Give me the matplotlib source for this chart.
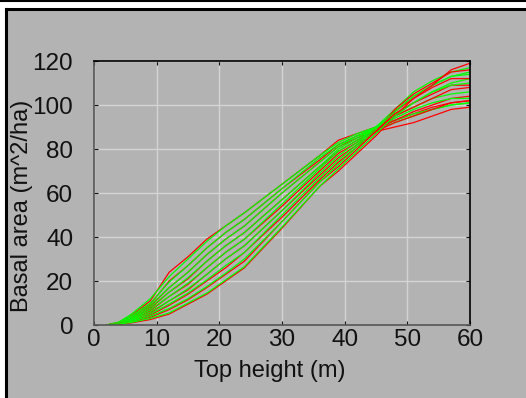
import matplotlib.pyplot as plt
from matplotlib.patches import Rectangle
from matplotlib.lines import Line2D

# top height (m) where the curves are sampled
height = [2, 4, 6, 9, 12, 15, 18, 21, 24, 30, 36, 39, 42, 45, 48, 51, 54, 57, 60]

# basal area (m^2/ha), red set
red_curves = [
    [0, 1.2, 4.5, 11, 24, 31, 39, 45, 51, 64, 77, 84, 87, 90, 93, 96, 99, 101, 102],
    [0, 1.0, 3.8, 9.5, 20, 27, 35, 42, 48, 62, 75, 82, 86, 88, 90, 92, 95, 98, 99],
    [0, 0.9, 3.2, 8.5, 17, 24, 32, 39, 45, 60, 74, 81, 85, 89, 93, 97, 100, 103, 104],
    [0, 0.8, 2.8, 7.5, 15, 21, 29, 36, 42, 57, 72, 79, 84, 88, 92, 95, 98, 101, 102],
    [0, 0.7, 2.4, 6.5, 13, 18.5, 26, 33, 39, 54, 70, 78, 83, 89, 95, 99, 103, 107, 108],
    [0, 0.6, 2.0, 5.5, 11, 16, 23, 30, 36, 52, 68, 76, 82, 88, 96, 101, 105, 109, 109],
    [0, 0.5, 1.7, 4.5, 9, 14, 20, 26, 33, 49, 66, 74, 81, 88, 97, 103, 108, 112, 112],
    [0, 0.4, 1.4, 3.5, 7, 11.5, 17, 23, 29, 47, 65, 72, 80, 88, 98, 105, 110, 115, 116],
    [0, 0.3, 1.0, 2.5, 5, 9.5, 14, 20, 26, 44, 63, 70, 78, 86, 95, 103, 109, 116, 119],
]

# basal area (m^2/ha), green set
green_curves = [
    [0, 1.4, 5, 12, 22, 30, 38, 45, 51, 64, 77, 83, 87, 90, 93, 96, 98, 100, 101],
    [0, 1.2, 4.2, 10, 19.5, 27, 35, 42, 48, 62, 76, 82, 86, 89, 92, 95, 98, 100, 101],
    [0, 1.0, 3.6, 9, 17, 24, 32, 39, 45, 60, 74, 81, 86, 90, 94, 98, 101, 103, 103],
    [0, 0.9, 3.0, 8, 15, 21.5, 29, 36, 42, 57, 72, 80, 85, 90, 95, 99, 103, 105, 106],
    [0, 0.8, 2.6, 7, 13, 19, 26, 33, 39, 55, 71, 79, 84, 90, 96, 101, 106, 110, 112],
    [0, 0.7, 2.2, 6, 11, 16.5, 23, 30, 36, 52, 69, 77, 83, 90, 97, 104, 109, 113, 115],
    [0, 0.6, 1.9, 5, 9.5, 14.5, 20.5, 27, 33, 50, 67, 75, 82, 90, 98, 106, 111, 115, 117],
    [0, 0.5, 1.6, 4, 7.5, 12, 17.5, 23.5, 30, 47, 65, 73, 81, 89, 97, 104, 109, 113, 114],
    [0, 0.4, 1.2, 3, 5.5, 10, 14.5, 20.5, 26.5, 44.5, 63, 71, 79, 87, 95, 101, 106, 109, 110],
]

xticks = [0, 10, 20, 30, 40, 50, 60]
yticks = [0, 20, 40, 60, 80, 100, 120]

bg = '#b3b3b3'
W, H = 526, 398
plt.rcParams['font.family'] = ['Liberation Sans', 'DejaVu Sans']

fig = plt.figure(figsize=(W / 100, H / 100), dpi=100)
fig.patch.set_facecolor('white')

# grey panel with black frame on top and left
fig.add_artist(Rectangle((6 / W, 0), 1, 1 - 9 / H, transform=fig.transFigure,
                         facecolor=bg, edgecolor='none', zorder=0))
fig.add_artist(Line2D([6 / W, 1], [1 - 8.5 / H, 1 - 8.5 / H], transform=fig.transFigure,
                      color='black', lw=2.2))
fig.add_artist(Line2D([6 / W, 6 / W], [0, 1 - 8.5 / H], transform=fig.transFigure,
                      color='black', lw=2.2))
fig.add_artist(Line2D([0, 1], [1 - 0.5 / H, 1 - 0.5 / H], transform=fig.transFigure,
                      color='black', lw=1.5))

ax = fig.add_axes([94 / W, 1 - 325 / H, 376 / W, 264 / H])
ax.set_facecolor(bg)

for r, g in zip(red_curves, green_curves):
    ax.plot(height, r, color='#ff0000', lw=0.9)
    ax.plot(height, g, color='#00ff00', lw=0.9)

ax.set_xlim(0, 60)
ax.set_ylim(0, 120)
ax.set_xticks(xticks)
ax.set_yticks(yticks)
ax.grid(True, color='#d4d4d4', lw=1)
ax.set_axisbelow(True)

for side in ['top', 'right']:
    ax.spines[side].set_color('black')
for side in ['left', 'bottom']:
    ax.spines[side].set_color('#555555')
for s in ax.spines.values():
    s.set_linewidth(1.2)

ax.tick_params(direction='in', length=3, top=True, right=True, labelsize=17.5,
               colors='#111111')
ax.tick_params(axis='y', pad=15)
ax.tick_params(axis='x', pad=3)

fig.text(22 / W, 1 - 206 / H, 'Basal area (m^2/ha)', rotation=90,
         ha='center', va='center', fontsize=17, color='#111111')
fig.text(270 / W, 1 - 371 / H, 'Top height (m)',
         ha='center', va='center', fontsize=17, color='#111111')

fig.savefig('out.png', dpi=100, facecolor=fig.get_facecolor())
